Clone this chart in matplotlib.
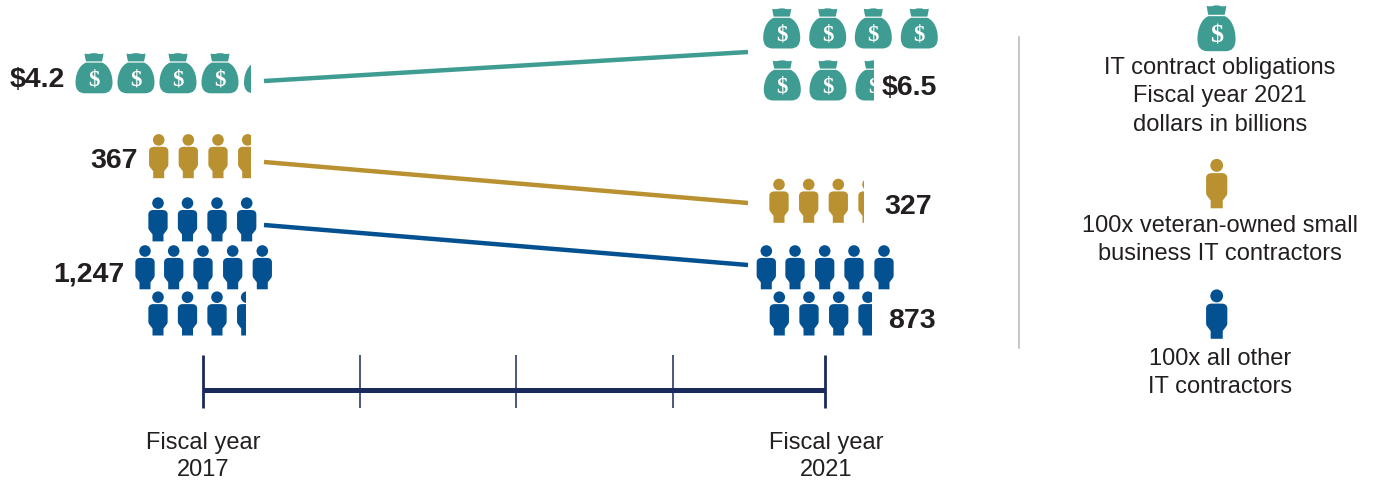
import matplotlib
matplotlib.use('Agg')
import matplotlib.pyplot as plt
from matplotlib.path import Path
from matplotlib.patches import PathPatch, Rectangle
from matplotlib.transforms import Affine2D

plt.rcParams['font.family'] = ['Liberation Sans', 'DejaVu Sans']

# Values
obligations = [4.2, 6.5]        # billions, one bag per billion
veteran_owned = [367, 327]      # one figure per 100
all_other = [1247, 873]         # one figure per 100
years = [2017, 2018, 2019, 2020, 2021]
obligation_labels = ['$4.2', '$6.5']
veteran_labels = ['367', '327']
other_labels = ['1,247', '873']
legend_lines = ['IT contract obligations', 'Fiscal year 2021', 'dollars in billions',
                '100x veteran-owned small', 'business IT contractors',
                '100x all other', 'IT contractors']

TEAL = '#3F9C92'
GOLD = '#B99130'
BLUE = '#045192'
NAVY = '#1B2A5C'
INK = '#231F20'
RULE = '#B5B5B5'

M, L, C3, C4, Z = Path.MOVETO, Path.LINETO, Path.CURVE3, Path.CURVE4, Path.CLOSEPOLY

# Figure shape, origin at top centre, y down, 19.3 x 44 px
person_body = Path(
    [(-5.5, 44), (-5.5, 37), (-9.0, 32.5), (-9.65, 31.5), (-9.65, 30), (-9.65, 17),
     (-9.65, 14), (-7.5, 12.6), (-4.5, 12.6), (4.5, 12.6), (7.5, 12.6), (9.65, 14), (9.65, 17),
     (9.65, 30), (9.65, 31.5), (9.0, 32.5), (5.5, 37), (5.5, 44), (-5.5, 44)],
    [M, L, L, C3, C3, L, C4, C4, C4, L, C4, C4, C4, L, C3, C3, L, L, Z])
person_head = Path.circle((0, 5.7), 5.8)
PERSON = Path.make_compound_path(person_body, person_head)
PERSON_W = 19.3

# Money bag, origin at top centre, y down, 37 x 40.5 px
bag_knot = Path(
    [(-9.5, 0.8), (-5, 1.8), (-3, 0.6), (0, 0), (3, 0.6), (5, 1.8), (9.5, 0.8),
     (9, 5), (8, 8.6), (-8, 8.6), (-9, 5), (-9.5, 0.8), (-9.5, 0.8)],
    [M, C3, C3, C3, C3, C3, C3, C3, C3, L, C3, C3, Z])
bag_sack = Path(
    [(-8, 9.8), (8, 9.8), (14, 12), (18.5, 20), (18.5, 30), (18.5, 40.5), (9, 40.5),
     (-9, 40.5), (-18.5, 40.5), (-18.5, 30), (-18.5, 20), (-14, 12), (-8, 9.8), (-8, 9.8)],
    [M, L, C4, C4, C4, C3, C3, L, C3, C3, C4, C4, C4, Z])
BAG = Path.make_compound_path(bag_knot, bag_sack)
BAG_W = 37


def place_icon(ax, shape, cx, top, color, clip=None, sx=1.0, sy=1.0):
    tr = Affine2D().scale(sx, sy).translate(cx, top) + ax.transData
    patch = PathPatch(shape, facecolor=color, edgecolor='none', transform=tr)
    ax.add_patch(patch)
    if clip is not None:
        patch.set_clip_path(clip)
    return patch


def place_bag(ax, cx, top, clip=None, sx=1.0, sy=1.0):
    place_icon(ax, BAG, cx, top, TEAL, clip, sx, sy)
    t = ax.text(cx, top + 27.5 * sy, '$', color='white', ha='center', va='center',
                family='Liberation Serif', fontweight='bold', fontsize=16.5 * sy)
    if clip is not None:
        t.set_clip_on(True)
        t.set_clip_path(clip)


def draw_rows(ax, amount, rows, kind):
    # rows: (centre xs, top y); the last icon reached is cut to the fraction left
    left = amount
    for xs, top, color in rows:
        for cx in xs:
            if left <= 0:
                return
            width = BAG_W if kind == 'bag' else PERSON_W
            clip = None
            if left < 1:
                x0 = cx - width / 2
                clip = Rectangle((x0 - 1, top - 2), width * left + 1, 60, transform=ax.transData)
            if kind == 'bag':
                place_bag(ax, cx, top, clip)
            else:
                place_icon(ax, PERSON, cx, top, color, clip)
            left -= 1


fig = plt.figure(figsize=(13.74, 4.8), dpi=100)
ax = fig.add_axes([0, 0, 1, 1])
ax.set_xlim(0, 1374)
ax.set_ylim(480, 0)
ax.axis('off')

# Icon rows for each series
draw_rows(ax, obligations[0], [([94, 136, 178, 220, 262.5], 52.8, TEAL)], 'bag')
draw_rows(ax, obligations[1], [([781.7, 827.7, 873.3, 919.3], 8, TEAL),
                               ([782.3, 828, 874], 60, TEAL)], 'bag')
draw_rows(ax, veteran_owned[0] / 100, [([158.7, 188.3, 218, 247.7], 134.2, GOLD)], 'person')
draw_rows(ax, veteran_owned[1] / 100, [([779, 808.7, 838.3, 868], 178.8, GOLD)], 'person')
draw_rows(ax, all_other[0] / 100, [([158, 187.5, 217, 246.7], 197.4, BLUE),
                                   ([145, 173.7, 203, 232.7, 262.3], 245.3, BLUE),
                                   ([158, 187.5, 217, 246.7], 291.5, BLUE)], 'person')
draw_rows(ax, all_other[1] / 100, [([766.3, 795, 824.7, 854, 884], 245.3, BLUE),
                                   ([779.3, 809, 838.7, 868], 291.5, BLUE)], 'person')

# Connector lines between the two years
for y0, y1, color in [(81, 52, TEAL), (162, 203, GOLD), (225, 265, BLUE)]:
    ax.plot([264, 748], [y0, y1], color=color, lw=3.2, solid_capstyle='butt')

# Value labels
bold = dict(fontsize=20.5, fontweight='bold', color=INK, ha='right', va='center')
ax.text(65.5, 79.5, obligation_labels[0], **bold)
ax.text(936.5, 87.5, obligation_labels[1], **bold)
ax.text(137.5, 160.5, veteran_labels[0], **bold)
ax.text(931.5, 207.5, veteran_labels[1], **bold)
ax.text(124.5, 274.5, other_labels[0], **bold)
ax.text(935.5, 320.5, other_labels[1], **bold)

# Time axis
tick_x = [203, 360, 516, 673, 825]
ax.plot([tick_x[0], tick_x[-1]], [390, 390], color=NAVY, lw=3.6, solid_capstyle='butt')
for i, x in enumerate(tick_x):
    end = i in (0, len(tick_x) - 1)
    ax.plot([x, x], [355, 408], color=NAVY, lw=2.0 if end else 1.1, solid_capstyle='butt')

regular = dict(fontsize=17, color=INK, ha='center', va='center')
ax.text(203, 443, 'Fiscal year', **regular)
ax.text(203, 470, str(years[0]), **regular)
ax.text(826, 443, 'Fiscal year', **regular)
ax.text(826, 470, str(years[-1]), **regular)

# Legend
ax.plot([1019, 1019], [37, 348], color=RULE, lw=1.1)
place_bag(ax, 1216.5, 5, sx=1.03, sy=1.14)
place_icon(ax, PERSON, 1216.7, 159, GOLD, sx=1.1, sy=1.12)
place_icon(ax, PERSON, 1216.7, 289.5, BLUE, sx=1.1, sy=1.12)
for text, y in zip(legend_lines, [68, 96, 125, 226, 254, 359, 387]):
    ax.text(1220, y, text, **regular)

fig.savefig('out.png', dpi=100)
